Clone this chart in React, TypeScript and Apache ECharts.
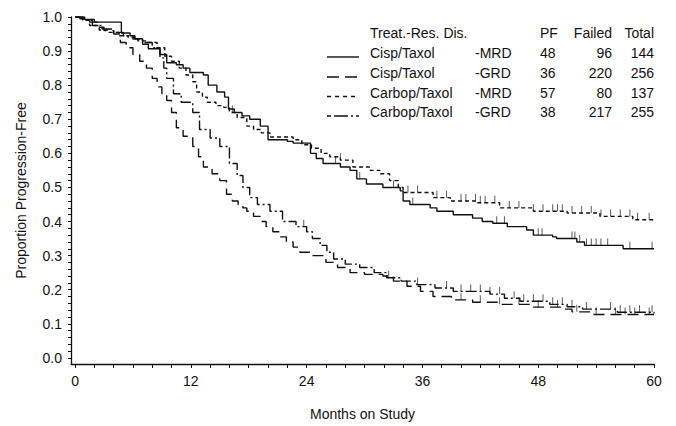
import React, { useEffect, useRef } from "react";
import * as echarts from "echarts";

// ---- data (months, proportion progression-free) ----
const cispMRD: number[][] = [
  [0, 1], [1.0, 0.993], [2.0, 0.985], [4.8, 0.953], [5.7, 0.945], [6.2, 0.936], [7.0, 0.92],
  [7.6, 0.907], [8.8, 0.89], [9.5, 0.866], [10.5, 0.86], [11.2, 0.85], [11.9, 0.837],
  [13.3, 0.83], [13.8, 0.8], [14.7, 0.78], [15.5, 0.765], [15.9, 0.73], [16.5, 0.72],
  [17.3, 0.71], [18.1, 0.7], [19.2, 0.68], [20, 0.64], [22, 0.635], [22.6, 0.63],
  [24.4, 0.6], [25, 0.585], [25.7, 0.57], [27.5, 0.56], [28.5, 0.55], [29.2, 0.525],
  [30.2, 0.51], [31.9, 0.5], [33.7, 0.49], [34, 0.46], [34.7, 0.45], [36.8, 0.44],
  [37.5, 0.43], [39.2, 0.42], [41.2, 0.41], [42.2, 0.4], [43.3, 0.395], [44.8, 0.385],
  [46.8, 0.375], [47.5, 0.36], [49.5, 0.355], [49.9, 0.35], [52, 0.34], [52.8, 0.33],
  [56.8, 0.32], [60, 0.32],
];
const cispGRD: number[][] = [
  [0, 1], [0.5, 0.995], [1.5, 0.985], [2.3, 0.97], [3, 0.96], [4, 0.95], [4.7, 0.925],
  [5.3, 0.91], [6, 0.89], [6.7, 0.87], [7.4, 0.85], [8, 0.82], [8.5, 0.795], [9.0, 0.775],
  [9.5, 0.755], [10, 0.72], [10.5, 0.675], [11.2, 0.65], [12.2, 0.62], [12.8, 0.59],
  [13.3, 0.56], [14.2, 0.54], [15, 0.52], [15.7, 0.48], [16.3, 0.46], [16.9, 0.45],
  [17.4, 0.44], [17.8, 0.43], [18.5, 0.415], [19.2, 0.4], [19.8, 0.385], [20.5, 0.37],
  [21.2, 0.355], [21.9, 0.34], [22.6, 0.325], [23.3, 0.31], [24.5, 0.3], [26, 0.28],
  [27.2, 0.265], [28.5, 0.25], [30, 0.245], [31.9, 0.24], [33, 0.225], [34.4, 0.21],
  [35.8, 0.195], [37.1, 0.18], [39, 0.17], [41.2, 0.163], [44, 0.157], [47.5, 0.149],
  [50.3, 0.143], [51.5, 0.135], [53.4, 0.127], [60, 0.127],
];
const carbMRD: number[][] = [
  [0, 1], [0.8, 0.99], [1.5, 0.975], [2.5, 0.962], [3.5, 0.955], [4.5, 0.945], [5.5, 0.94],
  [6.5, 0.93], [7.5, 0.925], [8.5, 0.91], [9.3, 0.885], [10, 0.87], [10.8, 0.85],
  [11.5, 0.83], [12.2, 0.81], [12.6, 0.78], [13.2, 0.765], [13.7, 0.75], [14.6, 0.74],
  [15.4, 0.735], [16, 0.72], [16.8, 0.705], [17.8, 0.68], [18.5, 0.67], [19.3, 0.66],
  [20.2, 0.648], [22.6, 0.64], [23.5, 0.625], [24.5, 0.615], [25.5, 0.6], [26.4, 0.59],
  [27.5, 0.58], [28.8, 0.56], [30.5, 0.55], [31.6, 0.54], [32.6, 0.52], [33.5, 0.5],
  [34, 0.485], [37.1, 0.47], [38.9, 0.46], [41.7, 0.455], [44, 0.44], [47.5, 0.43],
  [51, 0.425], [54.4, 0.415], [57.8, 0.405], [60, 0.4],
];
const carbGRD: number[][] = [
  [0, 1], [0.8, 0.99], [1.8, 0.975], [2.8, 0.965], [4, 0.955], [5, 0.945], [6, 0.935],
  [7, 0.925], [8, 0.91], [8.8, 0.88], [9.2, 0.85], [9.5, 0.82], [10.2, 0.775], [11, 0.75],
  [12.2, 0.72], [12.9, 0.67], [14, 0.645], [15, 0.62], [16, 0.57], [16.8, 0.535],
  [17.4, 0.5], [18.1, 0.47], [18.9, 0.45], [20.2, 0.43], [21.5, 0.4], [22.9, 0.385],
  [24, 0.37], [24.6, 0.35], [25.4, 0.33], [26.1, 0.31], [26.8, 0.29], [28, 0.275],
  [29.5, 0.265], [31, 0.25], [32.3, 0.235], [33.8, 0.225], [35.4, 0.215], [37.3, 0.205],
  [39.2, 0.195], [43, 0.187], [44.5, 0.175], [46.1, 0.166], [49.2, 0.157], [51, 0.15],
  [52.6, 0.143], [56.2, 0.134], [60, 0.13],
];

// censored observation times (months)
const cispMRDCens = [27, 29.5, 33, 35, 43.7, 44.5, 48, 48.4, 51.5, 51.8, 52.3, 53, 53.5, 54, 54.5, 55.2, 57.5, 59.8];
const cispGRDCens = [40, 42, 44, 46, 48, 50, 52, 54, 56, 57, 58, 59.5];
const carbMRDCens = [16.3, 27.5, 34.5, 35.5, 37.5, 38.5, 40, 40.5, 41.5, 42, 42.5, 43.5, 45, 46, 47.5, 48.5, 49.5, 50, 50.5, 51.5, 52.5, 53.5, 54.5, 55.5, 56.5, 57.5, 58.3, 59.5];
const carbGRDCens = [23.7, 32.5, 35.5, 38.5, 40, 41, 42, 43, 44, 45.5, 46.5, 47.5, 48.5, 49.5, 50.5, 51.5, 53, 55.5, 56.5, 57.5, 58.5, 59.8];

// legend table
const legendTreat = ["Cisp/Taxol", "Cisp/Taxol", "Carbop/Taxol", "Carbop/Taxol"];
const legendDis = ["-MRD", "-GRD", "-MRD", "-GRD"];
const legendPF = [48, 36, 57, 38];
const legendFailed = [96, 220, 80, 217];
const legendTotal = [144, 256, 137, 255];

const xLabelValues = [0, 12, 24, 36, 48, 60];
const yLabelValues = [0, 0.1, 0.2, 0.3, 0.4, 0.5, 0.6, 0.7, 0.8, 0.9, 1.0];

const FONT = "'Liberation Sans', Arial, Helvetica, sans-serif";
const INK = "#111";

const dashes: (number[] | null)[] = [null, [11, 6], [4, 3], [11, 3, 2, 3]];
const legendDashes: (number[] | null)[] = [null, [12, 6], [4, 4], [4, 3, 14, 3, 2, 3]];

function stepValue(pts: number[][], t: number): number {
  let v = pts[0][1];
  for (const p of pts) {
    if (p[0] <= t) v = p[1];
    else break;
  }
  return v;
}

export default function App() {
  const ref = useRef<HTMLDivElement>(null);
  useEffect(() => {
    if (!ref.current) return;
    const chart = echarts.init(ref.current, undefined, { renderer: "svg" });
    const curves = [cispMRD, cispGRD, carbMRD, carbGRD];
    const cens = [cispMRDCens, cispGRDCens, carbMRDCens, carbGRDCens];

    const xTicks: number[] = [];
    for (let i = 0; i <= 30; i++) xTicks.push(i * 2);
    const yTicks: number[] = [];
    for (let i = 0; i <= 50; i++) yTicks.push(Math.round(i * 2) / 100);

    const series: any[] = [];
    curves.forEach((c, i) => {
      series.push({
        type: "line",
        step: "end",
        data: c,
        symbol: "none",
        silent: true,
        lineStyle: {
          color: INK,
          width: 1.4,
          type: dashes[i] ? dashes[i] : "solid",
        },
      });
      series.push({
        type: "scatter",
        data: cens[i].map((t) => [t, stepValue(c, t)]),
        symbol: "rect",
        symbolSize: [1, 7],
        symbolOffset: [0, -3.5],
        itemStyle: { color: "#333" },
        silent: true,
      });
    });

    const rowY = [53, 73, 92.5, 112];
    const headerY = 33;
    const graphics: any[] = [];
    const txt = (x: number, y: number, s: string, align = "left") => ({
      type: "text",
      x,
      y,
      style: {
        text: s,
        fill: INK,
        font: `14px ${FONT}`,
        textAlign: align,
        textVerticalAlign: "middle",
      },
      silent: true,
    });
    graphics.push(txt(370, headerY, "Treat.-Res. Dis."));
    graphics.push(txt(540, headerY, "PF"));
    graphics.push(txt(612, headerY, "Failed", "right"));
    graphics.push(txt(654, headerY, "Total", "right"));
    legendTreat.forEach((name, i) => {
      const y = rowY[i];
      graphics.push({
        type: "line",
        shape: { x1: 327, y1: y + 4, x2: 359, y2: y + 4 },
        style: {
          stroke: INK,
          lineWidth: 1.4,
          lineDash: legendDashes[i] ? legendDashes[i] : null,
        },
        silent: true,
      });
      graphics.push(txt(370, y, name));
      graphics.push(txt(475, y, legendDis[i]));
      graphics.push(txt(540, y, String(legendPF[i])));
      graphics.push(txt(612, y, String(legendFailed[i]), "right"));
      graphics.push(txt(654, y, String(legendTotal[i]), "right"));
    });

    chart.setOption({
      animation: false,
      backgroundColor: "#fff",
      textStyle: { fontFamily: FONT, color: INK },
      grid: { left: 71, right: 22, top: 17, bottom: 60, containLabel: false },
      xAxis: {
        type: "value",
        min: -0.42,
        max: 60,
        name: "Months on Study",
        nameLocation: "middle",
        nameGap: 43,
        nameTextStyle: { fontFamily: FONT, fontSize: 14, color: INK },
        axisLine: { show: true, onZero: false, lineStyle: { color: INK, width: 1.3 } },
        axisTick: {
          show: true,
          customValues: xTicks,
          length: 4,
          lineStyle: { color: INK, width: 1 },
        },
        axisLabel: {
          customValues: xLabelValues,
          fontFamily: FONT,
          fontSize: 14,
          color: INK,
          margin: 10,
          formatter: (v: number) => String(Math.round(v)),
        },
        splitLine: { show: false },
      },
      yAxis: {
        type: "value",
        min: -0.018,
        max: 1.0,
        name: "Proportion Progression-Free",
        nameLocation: "middle",
        nameGap: 43,
        nameTextStyle: { fontFamily: FONT, fontSize: 14, color: INK },
        axisLine: { show: true, onZero: false, lineStyle: { color: INK, width: 1.3 } },
        axisTick: {
          show: true,
          customValues: yTicks,
          length: 3,
          lineStyle: { color: INK, width: 1 },
        },
        axisLabel: {
          customValues: yLabelValues,
          fontFamily: FONT,
          fontSize: 14,
          color: INK,
          margin: 9,
          formatter: (v: number) => v.toFixed(1),
        },
        splitLine: { show: false },
      },
      series,
      graphic: graphics,
    });
    return () => chart.dispose();
  }, []);
  return <div ref={ref} style={{ width: 676, height: 426, marginLeft: -8, marginTop: -8 }} />;
}
